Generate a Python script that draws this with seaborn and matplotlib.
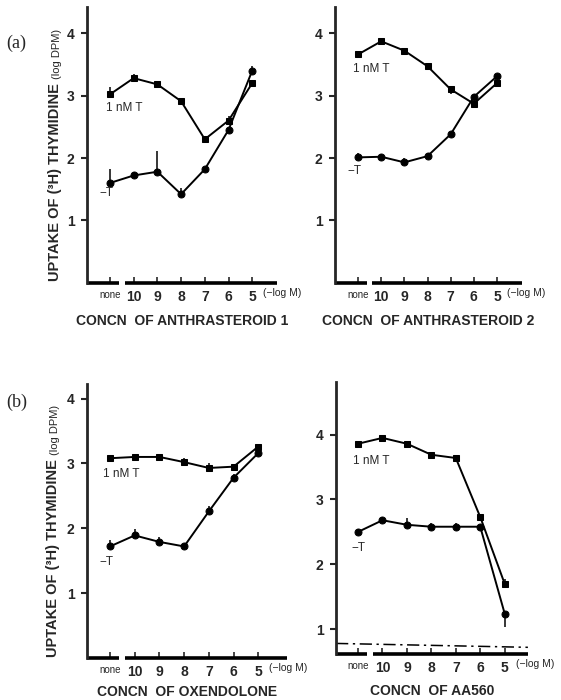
import numpy as np
import pandas as pd
import seaborn as sns
import matplotlib.pyplot as plt

# x categories: "none" then -log M concentrations
conc_labels = ['none', '10', '9', '8', '7', '6', '5']

# (a) anthrasteroid 1
a1_t = [3.02, 3.28, 3.18, 2.91, 2.30, 2.60, 3.20]
a1_t_err = [0.12, 0.06, 0.05, 0.0, 0.05, 0.08, 0.0]
a1_no = [1.60, 1.72, 1.78, 1.42, 1.82, 2.45, 3.40]
a1_no_err = [0.22, 0.05, 0.33, 0.10, 0.03, 0.0, 0.08]

# (a) anthrasteroid 2
a2_t = [3.66, 3.87, 3.72, 3.47, 3.10, 2.87, 3.20]
a2_t_err = [0.0, 0.0, 0.0, 0.0, -0.07, 0.03, 0.0]
a2_no = [2.01, 2.02, 1.93, 2.03, 2.38, 2.98, 3.31]
a2_no_err = [0.07, 0.05, 0.07, 0.05, 0.0, 0.05, 0.0]

# (b) oxendolone
ox_t = [3.08, 3.10, 3.10, 3.02, 2.93, 2.95, 3.26]
ox_t_err = [0.05, 0.05, 0.0, 0.06, 0.08, 0.0, 0.0]
ox_no = [1.72, 1.89, 1.79, 1.72, 2.26, 2.78, 3.16]
ox_no_err = [0.10, 0.10, 0.08, 0.0, 0.08, 0.05, 0.0]

# (b) AA560
aa_t = [3.86, 3.95, 3.86, 3.69, 3.64, 2.73, 1.70]
aa_t_err = [0.0, 0.0, 0.0, 0.0, 0.05, 0.05, 0.08]
aa_no = [2.50, 2.68, 2.61, 2.58, 2.58, 2.58, 1.24]
aa_no_err = [0.05, 0.05, 0.10, 0.05, 0.05, 0.0, -0.20]
aa_blank = [0.78, 0.72]

sns.set_style('ticks')
plt.rcParams['font.family'] = ['Liberation Sans', 'DejaVu Sans']

fig = plt.figure(figsize=(5.61, 7.0), dpi=100)

panels = [
    # rect, t, t_err, no, no_err, xlabel, label y, ylim, xlim, text pos
    ([0.155, 0.596, 0.339, 0.394], a1_t, a1_t_err, a1_no, a1_no_err,
     'CONCN  OF ANTHRASTEROID 1', -0.112, (0, 4.42), (-0.97, 7.05),
     (-0.15, 2.80), (-0.45, 1.44), True),
    ([0.597, 0.596, 0.333, 0.394], a2_t, a2_t_err, a2_no, a2_no_err,
     'CONCN  OF ANTHRASTEROID 2', -0.112, (0, 4.42), (-1.0, 7.07),
     (-0.2, 3.42), (-0.45, 1.79), False),
    ([0.155, 0.060, 0.357, 0.391], ox_t, ox_t_err, ox_no, ox_no_err,
     'CONCN  OF OXENDOLONE', -0.098, (0, 4.22), (-0.93, 7.17),
     (-0.3, 2.83), (-0.42, 1.48), True),
    ([0.599, 0.066, 0.342, 0.389], aa_t, aa_t_err, aa_no, aa_no_err,
     'CONCN  OF AA560', -0.112, (0.62, 4.82), (-0.9, 6.95),
     (-0.2, 3.60), (-0.25, 2.25), False),
]

pos = np.arange(len(conc_labels))

for i, (rect, t, t_err, no, no_err, xlab, ly, ylim, xlim, tpos, npos, ylab) in enumerate(panels):
    ax = fig.add_axes(rect)
    df = pd.DataFrame({'x': np.concatenate([pos, pos]),
                       'y': t + no,
                       'group': ['1 nM T'] * 7 + ['-T'] * 7})
    sns.lineplot(data=df, x='x', y='y', style='group', markers={'1 nM T': 's', '-T': 'o'},
                 dashes=False, color='black', lw=1.4, markersize=5,
                 markeredgecolor='black', legend=False, ax=ax)
    for vals, err in [(t, t_err), (no, no_err)]:
        err = np.array(err)
        ax.errorbar(pos, vals, yerr=[np.clip(-err, 0, None), np.clip(err, 0, None)],
                    fmt='none', ecolor='black', elinewidth=1.1, capsize=0)
    if i == 3:
        sns.lineplot(x=list(xlim), y=aa_blank, color='black', lw=1.1,
                     linestyle=(0, (8, 3, 1.5, 3)), ax=ax)

    ax.set_xlim(*xlim)
    ax.set_ylim(*ylim)
    sns.despine(ax=ax, bottom=True)
    ax.spines['left'].set_linewidth(2)
    # broken x axis between "none" and 10
    ax.hlines(ylim[0], xlim[0], 0.38, color='black', lw=2.6, clip_on=False)
    ax.hlines(ylim[0], 0.62, xlim[1], color='black', lw=2.6, clip_on=False)

    ax.set_yticks([1, 2, 3, 4])
    ax.set_yticklabels(['1', '2', '3', '4'], fontsize=10, fontweight='bold')
    ax.tick_params(axis='y', direction='out', length=4, width=1.5, pad=5)
    ax.set_xticks(pos)
    ax.set_xticklabels(conc_labels, fontsize=10, fontweight='bold')
    ax.get_xticklabels()[0].set_fontsize(7)
    ax.get_xticklabels()[0].set_fontweight('normal')
    ax.tick_params(axis='x', direction='in', length=4, width=1.2, pad=5)
    ax.text(6.45, ylim[0] - (ylim[1] - ylim[0]) * 0.038, '(\u2212log M)', fontsize=7.5,
            ha='left', va='center', clip_on=False)

    ax.set_xlabel(xlab, fontsize=10, fontweight='bold')
    ax.xaxis.set_label_coords(0.5, ly)
    ax.set_ylabel('')

    ax.text(tpos[0], tpos[1], '1 nM T', fontsize=8.5, ha='left', va='center')
    ax.text(npos[0], npos[1], '\u2212T', fontsize=8.5, ha='left', va='center')

    if ylab:
        main = ax.text(-0.17, 0.005, 'UPTAKE OF (\u00b3H) THYMIDINE ', transform=ax.transAxes,
                       rotation=90, fontsize=10.5, fontweight='bold', ha='center', va='bottom')
        ax.annotate('(log DPM)', xy=(1, 1), xycoords=main, rotation=90, fontsize=8,
                    ha='right', va='bottom')

fig.text(0.012, 1 - 43 / 700, '(a)', fontsize=13, family='Liberation Serif', va='center')
fig.text(0.012, 1 - 402 / 700, '(b)', fontsize=13, family='Liberation Serif', va='center')

fig.savefig('out.png', dpi=100)
